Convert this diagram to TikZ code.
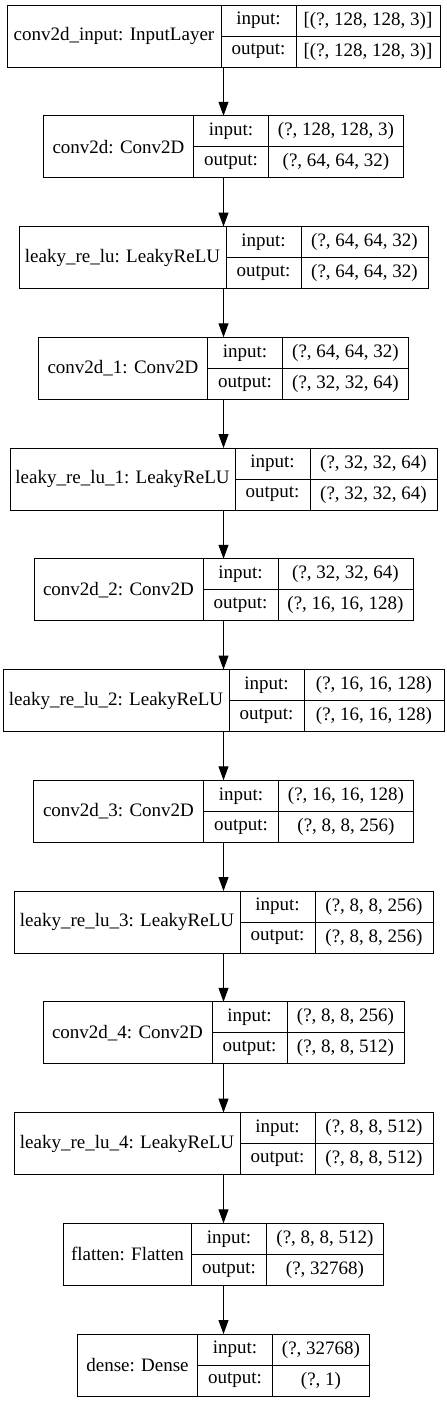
\documentclass[tikz,border=0pt]{standalone}
\usepackage{fontspec}
\setmainfont{Liberation Serif}
\usetikzlibrary{positioning,arrows.meta}

\begin{document}
\begin{tikzpicture} [x=1pt,y=-1pt,
  cell/.style={draw,line width=1pt,outer sep=0pt,inner sep=2pt,
    minimum height=31pt,font=\fontsize{19}{22}\selectfont},
  rec/.style={draw,line width=1pt,outer sep=0pt,minimum height=62pt},
  link/.style={line width=1pt,-{Triangle[length=14pt,width=10pt]}}]

\useasboundingbox (0,0) rectangle (447,1401);

% one record per layer: number / total width / name column / name / input / output
\foreach \i/\w/\a/\nm/\inp/\outp in {
  0/433/214/{conv2d\_input: InputLayer}/{[(?, 128, 128, 3)]}/{[(?, 128, 128, 3)]},
  1/360/150/{conv2d: Conv2D}/{(?, 128, 128, 3)}/{(?, 64, 64, 32)},
  2/409/207/{leaky\_re\_lu: LeakyReLU}/{(?, 64, 64, 32)}/{(?, 64, 64, 32)},
  3/370/169/{conv2d\_1: Conv2D}/{(?, 64, 64, 32)}/{(?, 32, 32, 64)},
  4/427/225/{leaky\_re\_lu\_1: LeakyReLU}/{(?, 32, 32, 64)}/{(?, 32, 32, 64)},
  5/379/169/{conv2d\_2: Conv2D}/{(?, 32, 32, 64)}/{(?, 16, 16, 128)},
  6/441/226/{leaky\_re\_lu\_2: LeakyReLU}/{(?, 16, 16, 128)}/{(?, 16, 16, 128)},
  7/380/170/{conv2d\_3: Conv2D}/{(?, 16, 16, 128)}/{(?, 8, 8, 256)},
  8/419/226/{leaky\_re\_lu\_3: LeakyReLU}/{(?, 8, 8, 256)}/{(?, 8, 8, 256)},
  9/361/169/{conv2d\_4: Conv2D}/{(?, 8, 8, 256)}/{(?, 8, 8, 512)},
  10/419/226/{leaky\_re\_lu\_4: LeakyReLU}/{(?, 8, 8, 512)}/{(?, 8, 8, 512)},
  11/320/128/{flatten: Flatten}/{(?, 8, 8, 512)}/{(?, 32768)},
  12/292/120/{dense: Dense}/{(?, 32768)}/{(?, 1)}}
{
  \pgfmathsetmacro\ytop{5+110.75*\i}
  \pgfmathsetmacro\c{\w-\a-75}
  % the outer box
  \node[rec,minimum width=\w pt,anchor=north] (l\i) at (223.5,\ytop) {};
  % name column
  \node[cell,minimum width=\a pt,minimum height=62pt,anchor=north west] (l\i n) at (l\i.north west) {\nm};
  % input / output rows
  \node[cell,minimum width=75pt,anchor=north west] (l\i i) at (l\i n.north east) {input:};
  \node[cell,minimum width=75pt,below=0pt of l\i i] (l\i o) {output:};
  \node[cell,minimum width=\c pt,right=0pt of l\i i] (l\i iv) {\inp};
  \node[cell,minimum width=\c pt,right=0pt of l\i o] (l\i ov) {\outp};
}

% arrows between the layers
\foreach \i [evaluate=\i as \j using int(\i+1)] in {0,...,11}
  \draw[link] (l\i) -- (l\j);

\end{tikzpicture}
\end{document}
